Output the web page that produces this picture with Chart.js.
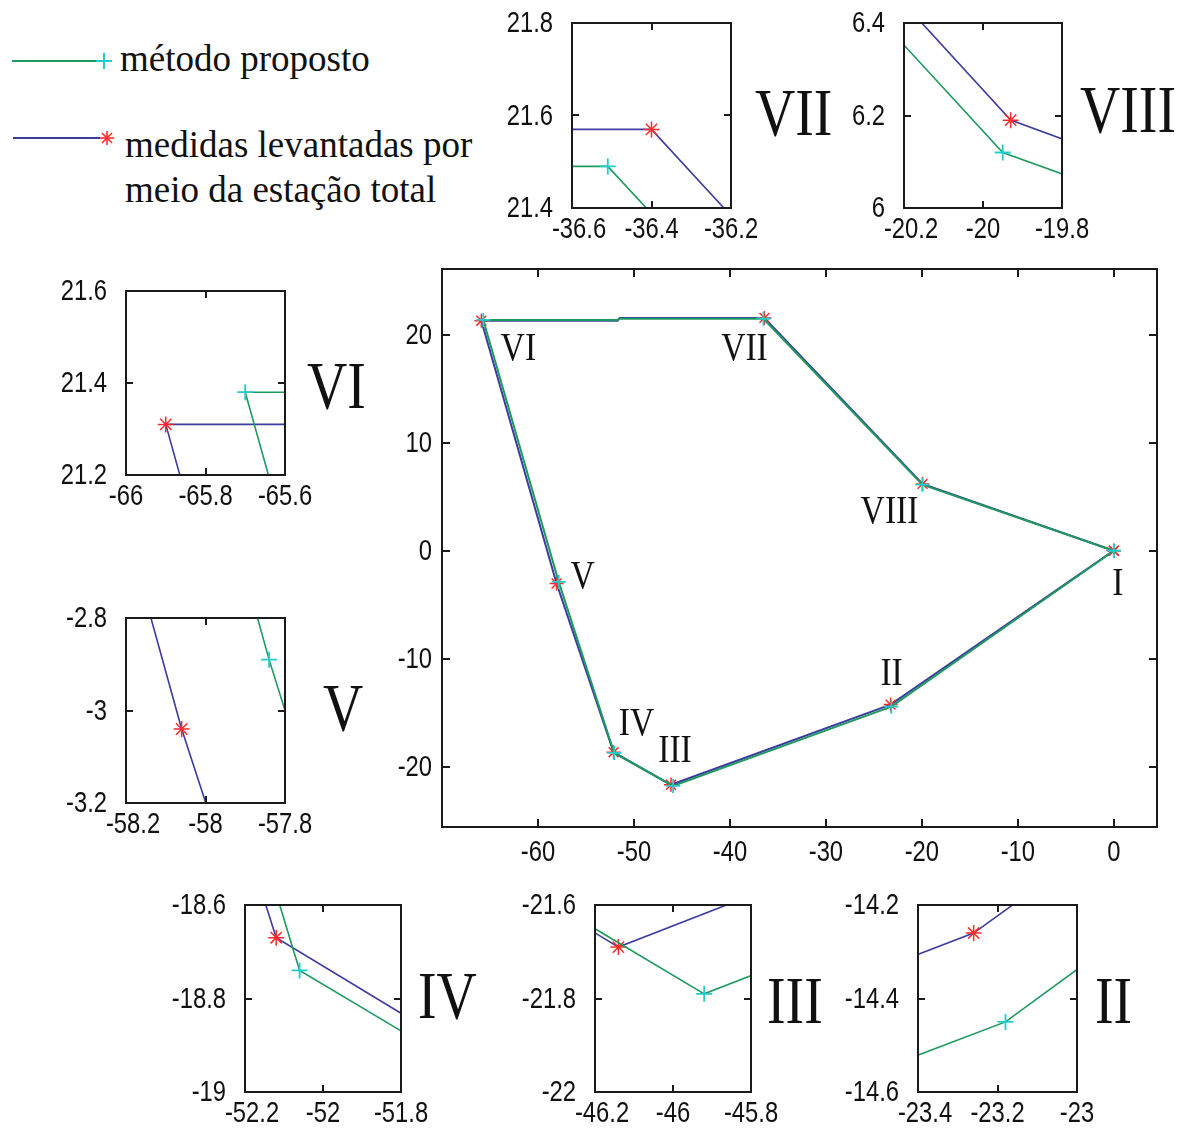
<!DOCTYPE html>
<html>
<head>
<meta charset="utf-8">
<script src="https://cdn.jsdelivr.net/npm/chart.js@4.4.1/dist/chart.umd.min.js"></script>
<style>
html, body { margin: 0; padding: 0; background: #fff; overflow: hidden; }
#page { position: relative; width: 1192px; height: 1128px; }
canvas { position: absolute; }
.legend-text { position: absolute; font-family: "Liberation Serif", "DejaVu Serif", serif; font-size: 37px; color: #111; white-space: nowrap; }
</style>
</head>
<body>
<div id="page">
  <svg style="position:absolute;left:0;top:0" width="125" height="160">
    <line x1="12" y1="61" x2="100" y2="61" stroke="#1e9a5e" stroke-width="2"/>
    <line x1="96" y1="61" x2="112" y2="61" stroke="#22cccc" stroke-width="2"/>
    <line x1="104" y1="53" x2="104" y2="69" stroke="#22cccc" stroke-width="2"/>
    <line x1="13" y1="138" x2="100" y2="138" stroke="#3c3ca0" stroke-width="2"/>
    <g stroke="#ff2a2a" stroke-width="1.6">
      <line x1="100" y1="138" x2="114" y2="138"/>
      <line x1="107" y1="131" x2="107" y2="145"/>
      <line x1="102" y1="133" x2="112" y2="143"/>
      <line x1="102" y1="143" x2="112" y2="133"/>
    </g>
  </svg>
  <div id="leg1" class="legend-text" style="left:120px;top:39px;line-height:40px"></div>
  <div id="leg2" class="legend-text" style="left:125px;top:122px;line-height:45px"></div>
</div>
<script>
// vertices of the polygon, in order I .. VIII
const pointNames = ['I', 'II', 'III', 'IV', 'V', 'VI', 'VII', 'VIII'];
const measuredX = [0, -23.26, -46.14, -52.12, -58.06, -65.90, -36.40, -19.93];
const measuredY = [0, -14.26, -21.69, -18.67, -3.04, 21.31, 21.57, 6.19];
const proposedX = [0, -23.18, -45.92, -52.06, -57.84, -65.70, -36.51, -19.95];
const proposedY = [0, -14.45, -21.79, -18.74, -2.89, 21.38, 21.49, 6.12];
// small step on the top side between VI and VII
const measuredStepX = [-51.7, -51.5];
const measuredStepY = [21.31, 21.57];
const proposedStepX = [-51.7, -51.5];
const proposedStepY = [21.38, 21.49];

const seriesNames = ['método proposto', 'medidas levantadas por meio da estação total'];

// tick labels
const mainXTicks = ['-60', '-50', '-40', '-30', '-20', '-10', '0'];
const mainYTicks = ['-20', '-10', '0', '10', '20'];
const ticksVIIx = ['-36.6', '-36.4', '-36.2'], ticksVIIy = ['21.4', '21.6', '21.8'];
const ticksVIIIx = ['-20.2', '-20', '-19.8'], ticksVIIIy = ['6', '6.2', '6.4'];
const ticksVIx = ['-66', '-65.8', '-65.6'], ticksVIy = ['21.2', '21.4', '21.6'];
const ticksVx = ['-58.2', '-58', '-57.8'], ticksVy = ['-3.2', '-3', '-2.8'];
const ticksIVx = ['-52.2', '-52', '-51.8'], ticksIVy = ['-19', '-18.8', '-18.6'];
const ticksIIIx = ['-46.2', '-46', '-45.8'], ticksIIIy = ['-22', '-21.8', '-21.6'];
const ticksIIx = ['-23.4', '-23.2', '-23'], ticksIIy = ['-14.6', '-14.4', '-14.2'];

const GREEN = '#1e9a5e', BLUE = '#3c3ca0', CYAN = '#22cccc', RED = '#ff2a2a';
const SQUEEZE = 0.82;

document.getElementById('leg1').textContent = seriesNames[0];
document.getElementById('leg2').innerHTML = 'medidas levantadas por<br>meio da estação total';

function buildPath(xs, ys, stepX, stepY) {
    const pts = [0, 1, 2, 3, 4, 5].map(i => ({ x: xs[i], y: ys[i], mark: true }));
    stepX.forEach((sx, k) => pts.push({ x: sx, y: stepY[k], mark: false }));
    [6, 7, 0].forEach(i => pts.push({ x: xs[i], y: ys[i], mark: true }));
    return pts;
}

function squeezedText(ctx, text, x, y) {
    ctx.save();
    ctx.translate(x, y);
    ctx.scale(SQUEEZE, 1);
    ctx.fillText(text, 0, 0);
    ctx.restore();
}

const boxPlugin = {
    id: 'boxTicks',
    afterDraw(chart, args, o) {
        const { ctx, chartArea: a } = chart;
        const xs = chart.scales.x, ys = chart.scales.y;
        ctx.save();
        ctx.strokeStyle = '#1a1a1a';
        ctx.lineWidth = 2;
        ctx.strokeRect(a.left, a.top, a.right - a.left, a.bottom - a.top);
        ctx.beginPath();
        o.xTicks.forEach(t => {
            const px = Math.round(xs.getPixelForValue(parseFloat(t)));
            ctx.moveTo(px, a.bottom); ctx.lineTo(px, a.bottom - o.tickLen);
            ctx.moveTo(px, a.top); ctx.lineTo(px, a.top + o.tickLen);
        });
        o.yTicks.forEach(t => {
            const py = Math.round(ys.getPixelForValue(parseFloat(t)));
            ctx.moveTo(a.left, py); ctx.lineTo(a.left + o.tickLen, py);
            ctx.moveTo(a.right, py); ctx.lineTo(a.right - o.tickLen, py);
        });
        ctx.stroke();

        ctx.fillStyle = '#111';
        ctx.font = '29px "Liberation Sans", Arial, sans-serif';
        ctx.textBaseline = 'middle';
        ctx.textAlign = 'center';
        o.xTicks.forEach((t, i) => {
            let px = xs.getPixelForValue(parseFloat(t));
            if (i === 0 && o.shiftFirst && t.length > 3) px += 7;
            squeezedText(ctx, t, px, a.bottom + o.xGap);
        });
        ctx.textAlign = 'right';
        o.yTicks.forEach(t => {
            squeezedText(ctx, t, a.left - o.yGap, ys.getPixelForValue(parseFloat(t)) + 1);
        });

        ctx.textBaseline = 'alphabetic';
        if (o.bigLabel) {
            ctx.font = '68px "Liberation Serif", "DejaVu Serif", serif';
            ctx.textAlign = 'left';
            squeezedText(ctx, o.bigLabel, a.right + o.bigDx, a.top + o.bigDy);
        }
        if (o.pointLabels) {
            ctx.font = '41px "Liberation Serif", "DejaVu Serif", serif';
            ctx.textAlign = 'center';
            pointNames.forEach((n, i) => {
                const off = o.pointLabels[n];
                const px = xs.getPixelForValue(measuredX[i]);
                const py = ys.getPixelForValue(measuredY[i]);
                squeezedText(ctx, n, px + off[0], py + off[1]);
            });
        }
        ctx.restore();
    }
};

function makeChart(cfg) {
    const pad = cfg.pad;
    const canvas = document.createElement('canvas');
    const w = cfg.box[2] - cfg.box[0] + pad.left + pad.right;
    const h = cfg.box[3] - cfg.box[1] + pad.top + pad.bottom;
    canvas.width = w;
    canvas.height = h;
    canvas.style.left = (cfg.box[0] - pad.left) + 'px';
    canvas.style.top = (cfg.box[1] - pad.top) + 'px';
    canvas.style.width = w + 'px';
    canvas.style.height = h + 'px';
    document.getElementById('page').appendChild(canvas);

    const axis = (min, max) => ({
        type: 'linear', min: min, max: max,
        grid: { display: false, drawTicks: false },
        border: { display: false },
        ticks: { display: false }
    });

    new Chart(canvas, {
        type: 'scatter',
        data: {
            datasets: [{
                label: seriesNames[0],
                data: buildPath(proposedX, proposedY, proposedStepX, proposedStepY),
                showLine: true,
                borderColor: GREEN,
                borderWidth: cfg.lineWidth,
                pointStyle: 'cross',
                pointRadius: c => (c.raw && c.raw.mark ? cfg.marker : 0),
                pointBorderColor: CYAN,
                pointBorderWidth: 1.8,
                pointBackgroundColor: CYAN
            }, {
                label: seriesNames[1],
                data: buildPath(measuredX, measuredY, measuredStepX, measuredStepY),
                showLine: true,
                borderColor: BLUE,
                borderWidth: cfg.lineWidth,
                pointStyle: 'star',
                pointRadius: c => (c.raw && c.raw.mark ? cfg.marker : 0),
                pointBorderColor: RED,
                pointBorderWidth: 1.5,
                pointBackgroundColor: RED
            }]
        },
        options: {
            responsive: false,
            animation: false,
            layout: { padding: pad },
            plugins: {
                legend: { display: false },
                tooltip: { enabled: false },
                boxTicks: cfg.deco
            },
            scales: {
                x: axis(parseFloat(cfg.xRange[0]), parseFloat(cfg.xRange[1])),
                y: axis(parseFloat(cfg.yRange[0]), parseFloat(cfg.yRange[1]))
            }
        },
        plugins: [boxPlugin]
    });
}

// main chart
makeChart({
    box: [442, 269, 1157, 827],
    pad: { left: 70, right: 30, top: 12, bottom: 50 },
    xRange: [-70, 4.5], yRange: [-25.6, 26.1],
    lineWidth: 2, marker: 7,
    deco: {
        xTicks: mainXTicks, yTicks: mainYTicks, tickLen: 8, xGap: 26, yGap: 10,
        pointLabels: {
            'I': [4, 44], 'II': [1, -20], 'III': [4, -23], 'IV': [23, -17],
            'V': [26, 4], 'VI': [37, 39], 'VII': [-20, 42], 'VIII': [-33, 39]
        }
    }
});

// zoomed views
const insets = [
    { name: 'VII', box: [572, 23, 731, 208], xt: ticksVIIx, yt: ticksVIIy, dx: 24, dy: 112 },
    { name: 'VIII', box: [904, 23, 1062, 208], xt: ticksVIIIx, yt: ticksVIIIy, dx: 18, dy: 109 },
    { name: 'VI', box: [126, 291, 285, 475], xt: ticksVIx, yt: ticksVIy, dx: 22, dy: 117 },
    { name: 'V', box: [126, 618, 285, 803], xt: ticksVx, yt: ticksVy, dx: 38, dy: 112 },
    { name: 'IV', box: [245, 905, 401, 1092], xt: ticksIVx, yt: ticksIVy, dx: 17, dy: 113 },
    { name: 'III', box: [595, 905, 751, 1092], xt: ticksIIIx, yt: ticksIIIy, dx: 16, dy: 118 },
    { name: 'II', box: [918, 905, 1077, 1092], xt: ticksIIx, yt: ticksIIy, dx: 18, dy: 118 }
];

insets.forEach(ins => {
    makeChart({
        box: ins.box,
        pad: { left: 85, right: 125, top: 22, bottom: 40 },
        xRange: [ins.xt[0], ins.xt[ins.xt.length - 1]],
        yRange: [ins.yt[0], ins.yt[ins.yt.length - 1]],
        lineWidth: 1.6, marker: 8,
        deco: {
            xTicks: ins.xt, yTicks: ins.yt, tickLen: 7, xGap: 22, yGap: 19, shiftFirst: true,
            bigLabel: ins.name, bigDx: ins.dx, bigDy: ins.dy
        }
    });
});
</script>
</body>
</html>
